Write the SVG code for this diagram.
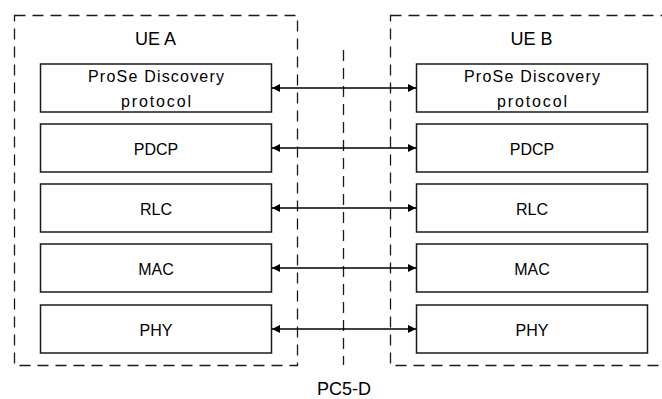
<svg xmlns="http://www.w3.org/2000/svg" width="662" height="399" viewBox="0 0 662 399">
<style>
.ue{fill:none;stroke:#1a1a1a;stroke-width:1.3;stroke-dasharray:11 7}
.box{fill:#fff;stroke:#1a1a1a;stroke-width:1.5}
.t{font-family:"Liberation Sans",Arial,sans-serif;font-size:16px;fill:#000;text-anchor:middle}
.h{font-family:"Liberation Sans",Arial,sans-serif;font-size:18px;fill:#000;text-anchor:middle}
.c{stroke:#000;stroke-width:1.3;fill:none;marker-start:url(#a);marker-end:url(#a)}
</style>
<defs>
<marker id="a" viewBox="0 0 8 8" refX="8" refY="4" markerWidth="8" markerHeight="8" markerUnits="userSpaceOnUse" orient="auto-start-reverse">
<path d="M0,0 L8,4 L0,8 Z" fill="#000"/>
</marker>
</defs>
<rect width="662" height="399" fill="#fff"/>
<g id="ueA">
<rect class="ue" x="14.5" y="15.5" width="283" height="350"/>
<text class="h" x="155.5" y="45">UE A</text>
</g>
<g id="ueB">
<rect class="ue" x="390.5" y="15.5" width="283" height="350"/>
<text class="h" x="531.5" y="45">UE B</text>
</g>
<g id="pc5d">
<line x1="343.5" y1="50" x2="343.5" y2="365" stroke="#1a1a1a" stroke-width="1.3" stroke-dasharray="11 7"/>
<text class="h" x="344" y="395">PC5-D</text>
</g>
<g id="a-prose"><rect class="box" x="40.5" y="64" width="231" height="48"/><text class="t" x="156" y="82" textLength="136" lengthAdjust="spacing">ProSe Discovery</text><text class="t" x="156" y="107" textLength="70" lengthAdjust="spacing">protocol</text></g>
<g id="a-pdcp"><rect class="box" x="40.5" y="124" width="231" height="48"/><text class="t" x="156" y="155">PDCP</text></g>
<g id="a-rlc"><rect class="box" x="40.5" y="184" width="231" height="48"/><text class="t" x="156" y="215">RLC</text></g>
<g id="a-mac"><rect class="box" x="40.5" y="244" width="231" height="48"/><text class="t" x="156" y="275">MAC</text></g>
<g id="a-phy"><rect class="box" x="40.5" y="305" width="231" height="48"/><text class="t" x="156" y="336">PHY</text></g>
<g id="b-prose"><rect class="box" x="416.5" y="64" width="231" height="48"/><text class="t" x="532" y="82" textLength="136" lengthAdjust="spacing">ProSe Discovery</text><text class="t" x="532" y="107" textLength="70" lengthAdjust="spacing">protocol</text></g>
<g id="b-pdcp"><rect class="box" x="416.5" y="124" width="231" height="48"/><text class="t" x="532" y="155">PDCP</text></g>
<g id="b-rlc"><rect class="box" x="416.5" y="184" width="231" height="48"/><text class="t" x="532" y="215">RLC</text></g>
<g id="b-mac"><rect class="box" x="416.5" y="244" width="231" height="48"/><text class="t" x="532" y="275">MAC</text></g>
<g id="b-phy"><rect class="box" x="416.5" y="305" width="231" height="48"/><text class="t" x="532" y="336">PHY</text></g>
<g id="connectors">
<line class="c" x1="272" y1="88" x2="416" y2="88"/>
<line class="c" x1="272" y1="148" x2="416" y2="148"/>
<line class="c" x1="272" y1="208" x2="416" y2="208"/>
<line class="c" x1="272" y1="268" x2="416" y2="268"/>
<line class="c" x1="272" y1="329" x2="416" y2="329"/>
</g>
</svg>
